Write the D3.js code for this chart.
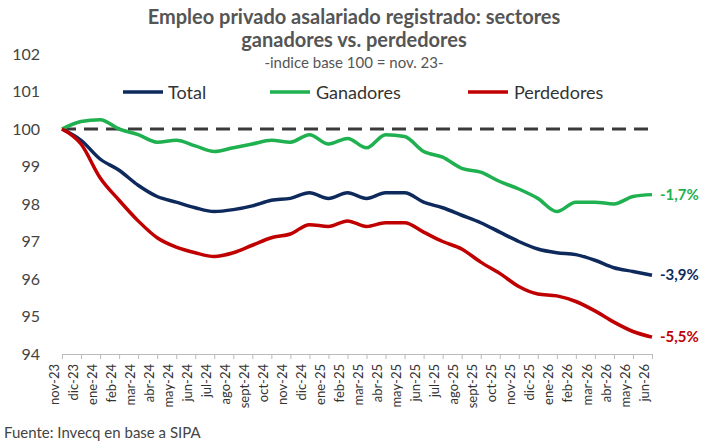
<!DOCTYPE html><html><head><meta charset="utf-8">
<script src="https://cdn.jsdelivr.net/npm/d3@7"></script>
<style>body{margin:0;background:#fff;font-family:Lato,"Open Sans",sans-serif}</style></head><body>
<svg id="c" width="709" height="443"></svg>
<script>
const months=["nov-23","dic-23","ene-24","feb-24","mar-24","abr-24","may-24","jun-24","jul-24","ago-24","sept-24","oct-24","nov-24","dic-24","ene-25","feb-25","mar-25","abr-25","may-25","jun-25","jul-25","ago-25","sept-25","oct-25","nov-25","dic-25","ene-26","feb-26","mar-26","abr-26","may-26","jun-26"];
const total=[100,99.7,99.2,98.9,98.5,98.2,98.05,97.9,97.8,97.85,97.95,98.1,98.15,98.3,98.15,98.3,98.15,98.3,98.3,98.05,97.9,97.7,97.5,97.25,97.0,96.8,96.7,96.65,96.5,96.3,96.2,96.1];
const ganadores=[100,100.2,100.25,100.0,99.85,99.65,99.7,99.55,99.4,99.5,99.6,99.7,99.65,99.85,99.6,99.75,99.5,99.85,99.8,99.4,99.25,98.95,98.85,98.6,98.4,98.15,97.8,98.05,98.05,98.0,98.2,98.25];
const perdedores=[100,99.6,98.7,98.1,97.55,97.1,96.85,96.7,96.6,96.7,96.9,97.1,97.2,97.45,97.4,97.55,97.4,97.5,97.5,97.25,97.0,96.8,96.45,96.15,95.8,95.6,95.55,95.4,95.15,94.85,94.6,94.45];
const yTicks=[94,95,96,97,98,99,100,101,102];
const series=[{name:"Total",v:total,c:"#0e2a5c",lab:"-3,9%"},{name:"Ganadores",v:ganadores,c:"#1fb050",lab:"-1,7%"},{name:"Perdedores",v:perdedores,c:"#c00000",lab:"-5,5%"}];
const svg=d3.select("#c");
const x=d3.scalePoint().domain(months).range([62,652]);
const y=d3.scaleLinear().domain([94,102]).range([354,54]);
const g=svg.append("g").attr("transform","translate(0,0)");
const ya=svg.append("g").attr("transform","translate(40,0)").call(d3.axisLeft(y).tickValues(yTicks).tickSize(0).tickPadding(0));
ya.select(".domain").remove();
ya.selectAll("text").attr("font-size",16).attr("fill","#444").attr("font-family","Lato,sans-serif").attr("text-anchor","end");
const xa=svg.append("g").attr("transform","translate(0,354)").call(d3.axisBottom(x).tickSize(5));
xa.select(".domain").attr("stroke","#bbb");xa.selectAll("line").attr("stroke","#bbb");
xa.selectAll("text").attr("font-size",13).attr("fill","#333").attr("font-family","Lato,sans-serif").attr("transform","rotate(-90)").attr("text-anchor","end").attr("dx","-6").attr("dy","-0.3em").attr("y",0).attr("x",-4);
svg.append("line").attr("x1",x(months[0])).attr("x2",652).attr("y1",y(100)).attr("y2",y(100)).attr("stroke","#3a3a3a").attr("stroke-width",3).attr("stroke-dasharray","14,8");
const line=d3.line().x((d,i)=>x(months[i])).y(d=>y(d)).curve(d3.curveMonotoneX);
series.forEach(s=>{
 svg.append("path").attr("d",line(s.v)).attr("fill","none").attr("stroke",s.c).attr("stroke-width",3.5);
 svg.append("text").attr("x",660).attr("y",y(s.v[s.v.length-1])+5).text(s.lab).attr("fill",s.c).attr("font-weight","bold").attr("font-size",15);
});
const lg=[{x:123,tx:168},{x:270,tx:316},{x:468,tx:514}];
series.forEach((s,i)=>{
 svg.append("line").attr("x1",lg[i].x).attr("x2",lg[i].x+40).attr("y1",92).attr("y2",92).attr("stroke",s.c).attr("stroke-width",3.5);
 svg.append("text").attr("x",lg[i].tx).attr("y",99).text(s.name).attr("font-size",18).attr("fill","#333");
});
svg.append("text").attr("x",354).attr("y",24).attr("text-anchor","middle").attr("font-size",20).attr("font-weight","bold").attr("fill","#555").text("Empleo privado asalariado registrado: sectores");
svg.append("text").attr("x",354).attr("y",47).attr("text-anchor","middle").attr("font-size",20).attr("font-weight","bold").attr("fill","#555").text("ganadores vs. perdedores");
svg.append("text").attr("x",354).attr("y",68).attr("text-anchor","middle").attr("font-size",15).attr("fill","#555").text("-indice base 100 = nov. 23-");
svg.append("text").attr("x",4).attr("y",438).attr("font-size",15).attr("fill","#444").text("Fuente: Invecq en base a SIPA");
</script></body></html>
